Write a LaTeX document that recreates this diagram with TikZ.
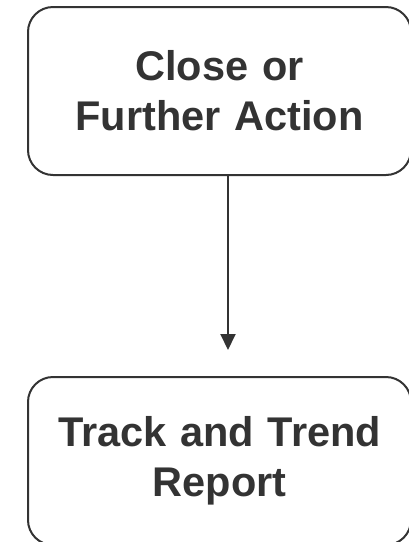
\documentclass[tikz,border=0pt]{standalone}
\usepackage{fontspec}
\setmainfont{Liberation Sans}
\usetikzlibrary{arrows.meta}
\definecolor{boxgray}{HTML}{333333}

\begin{document}
\begin{tikzpicture}[x=1pt,y=1pt,
    stepbox/.style={draw=boxgray, line width=2pt, rounded corners=25pt,
      minimum width=383pt, minimum height=168pt, text width=370pt,
      align=center, inner sep=0pt, text=boxgray,
      font=\fontsize{41.5}{50}\selectfont\bfseries}]
    \useasboundingbox (0,0) rectangle (408,-542);

    \node (close) at (219.5,-91) [stepbox]{Close or\\Further Action};
    \node (track) at (219.5,-461) [stepbox]{Track and Trend\\Report};

    \coordinate (tip) at (228,-350);

    \draw[boxgray, line width=2pt, -{Triangle[width=15pt,length=16pt]}] (close.south -| tip) -- (tip);
\end{tikzpicture}
\end{document}
